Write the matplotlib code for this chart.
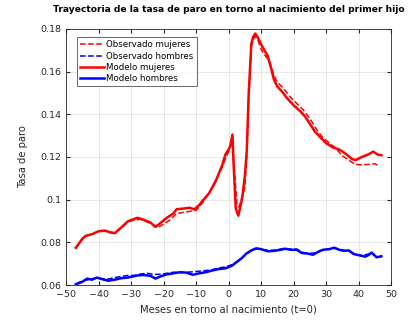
import numpy as np
import matplotlib.pyplot as plt

# Datos (meses en torno al nacimiento, tasa de paro)
mes_mod_muj = [-47, -45, -44, -42, -40, -38, -36, -35, -33, -31, -29, -28, -26, -24, -22.5,
               -21, -19, -17, -16, -14, -12, -10.5, -9, -8, -6, -4, -2, -1, 0, 0.5, 1.2,
               1.6, 2.2, 3.0, 3.6, 4.3, 5.0, 5.6, 6.2, 7.0, 7.5, 8.2, 9, 10, 11, 12, 13,
               14, 15, 16.5, 18, 20, 22, 23.5, 25, 26.5, 28, 30, 32, 34, 36, 38, 39, 41,
               43, 44.5, 46, 47]
tasa_mod_muj = [0.0775, 0.0815, 0.0830, 0.0838, 0.0852, 0.0855, 0.0845, 0.0843, 0.0870,
                0.0898, 0.0910, 0.0915, 0.0905, 0.0893, 0.0872, 0.0890, 0.0915, 0.0935,
                0.0955, 0.0958, 0.0962, 0.0955, 0.0975, 0.0995, 0.1030, 0.1085, 0.1160,
                0.1210, 0.1235, 0.1250, 0.1305, 0.1150, 0.0960, 0.0925, 0.0965, 0.1020,
                0.1110, 0.1230, 0.1500, 0.1730, 0.1760, 0.1778, 0.1760, 0.1728, 0.1700,
                0.1675, 0.1620, 0.1560, 0.1530, 0.1505, 0.1475, 0.1442, 0.1415, 0.1390,
                0.1355, 0.1320, 0.1295, 0.1265, 0.1245, 0.1235, 0.1215, 0.1190, 0.1185,
                0.1200, 0.1212, 0.1225, 0.1210, 0.1208]

mes_obs_muj = [-47, -45, -43, -41, -39, -37, -35, -33, -31, -29, -27, -25, -23, -22, -20,
               -18, -16, -14, -12, -10, -8, -6, -4, -2, -1, 0, 1.2, 2, 2.6, 3.2, 4, 5,
               5.6, 6.2, 7, 8, 9, 10, 11, 12, 13, 14, 15, 17, 19, 21, 23, 25, 27, 29, 31,
               33, 35, 37, 39, 41, 43, 45, 46.5]
tasa_obs_muj = [0.0770, 0.0820, 0.0835, 0.0845, 0.0855, 0.0848, 0.0845, 0.0865, 0.0895,
                0.0905, 0.0908, 0.0895, 0.0880, 0.0868, 0.0885, 0.0905, 0.0935, 0.0940,
                0.0945, 0.0950, 0.0985, 0.1030, 0.1090, 0.1150, 0.1190, 0.1225, 0.1228,
                0.1100, 0.0975, 0.0965, 0.1000, 0.1060, 0.1200, 0.1480, 0.1720, 0.1765,
                0.1750, 0.1705, 0.1680, 0.1660, 0.1630, 0.1580, 0.1550, 0.1520, 0.1480,
                0.1450, 0.1420, 0.1380, 0.1330, 0.1290, 0.1265, 0.1240, 0.1205, 0.1185,
                0.1165, 0.1163, 0.1165, 0.1168, 0.1155]

mes_mod_hom = [-47, -45, -43.5, -42, -40.5, -39, -37, -35, -33, -31, -29.5, -28, -26, -24,
               -22.5, -21, -19, -17, -15, -13, -11, -9, -7, -5, -3, -1, 1, 2.5, 4, 5.5, 7,
               8.5, 10, 12, 14, 16, 17.5, 19, 21, 22.5, 24, 26, 27.5, 29, 31, 32.5, 34,
               35.5, 37, 38.5, 40, 42, 43, 44, 45.5, 47]
tasa_mod_hom = [0.0603, 0.0615, 0.0630, 0.0625, 0.0635, 0.0628, 0.0620, 0.0625, 0.0632,
                0.0635, 0.0640, 0.0645, 0.0647, 0.0643, 0.0630, 0.0640, 0.0650, 0.0655,
                0.0660, 0.0658, 0.0648, 0.0655, 0.0660, 0.0668, 0.0675, 0.0678, 0.0690,
                0.0708, 0.0725, 0.0748, 0.0762, 0.0772, 0.0768, 0.0758, 0.0760, 0.0765,
                0.0770, 0.0765, 0.0765, 0.0750, 0.0748, 0.0742, 0.0755, 0.0765, 0.0768,
                0.0775, 0.0765, 0.0760, 0.0762, 0.0745, 0.0740, 0.0733, 0.0740, 0.0752,
                0.0730, 0.0735]

mes_obs_hom = [-47, -45, -43, -41, -39, -37, -35, -33, -31, -29, -27, -25, -23, -21, -19,
               -17, -15, -13, -11, -9, -7, -5, -3, -1, 1, 3, 5, 7, 9, 11, 13, 15, 17, 19,
               21, 23, 25, 27, 29, 31, 33, 35, 37, 39, 41, 43, 44, 45.5, 47]
tasa_obs_hom = [0.0605, 0.0620, 0.0625, 0.0633, 0.0630, 0.0628, 0.0635, 0.0640, 0.0645,
                0.0645, 0.0652, 0.0655, 0.0650, 0.0650, 0.0655, 0.0660, 0.0658, 0.0660,
                0.0662, 0.0665, 0.0668, 0.0672, 0.0680, 0.0685, 0.0695, 0.0712, 0.0740,
                0.0762, 0.0770, 0.0765, 0.0762, 0.0765, 0.0772, 0.0768, 0.0768, 0.0752,
                0.0748, 0.0752, 0.0765, 0.0770, 0.0772, 0.0765, 0.0758, 0.0745, 0.0738,
                0.0745, 0.0750, 0.0732, 0.0733]

xticks = [-50, -40, -30, -20, -10, 0, 10, 20, 30, 40, 50]
yticks = [0.06, 0.08, 0.10, 0.12, 0.14, 0.16, 0.18]
yticklabels = ['0.06', '0.08', '0.1', '0.12', '0.14', '0.16', '0.18']

fig = plt.figure(figsize=(4.1, 3.28), dpi=100)
ax = fig.add_axes([0.161, 0.131, 0.793, 0.781])

ax.plot(mes_obs_muj, tasa_obs_muj, color='#ff0000', ls='--', lw=1.1, label='Observado mujeres')
ax.plot(mes_obs_hom, tasa_obs_hom, color='#0000ff', ls='--', lw=1.1, label='Observado hombres')
ax.plot(mes_mod_muj, tasa_mod_muj, color='#ff0000', lw=1.8, label='Modelo mujeres')
ax.plot(mes_mod_hom, tasa_mod_hom, color='#0000ff', lw=1.8, label='Modelo hombres')

ax.set_xlim(-50, 50)
ax.set_ylim(0.06, 0.18)
ax.set_xticks(xticks)
ax.set_yticks(yticks)
ax.set_yticklabels(yticklabels)
ax.tick_params(direction='in', length=3, labelsize=6.8, colors='#262626',
               top=True, right=True)
for s in ax.spines.values():
    s.set_color('#262626')
    s.set_linewidth(0.6)
ax.grid(True, color='#e3e3e3', lw=0.6)
ax.set_axisbelow(True)

ax.set_title('Trayectoria de la tasa de paro en torno al nacimiento del primer hijo',
             fontsize=6.6, fontweight='bold', pad=12)
ax.set_xlabel('Meses en torno al nacimiento (t=0)', fontsize=7.2, color='#262626', labelpad=4)
ax.set_ylabel('Tasa de paro', fontsize=7.2, color='#262626', labelpad=9)

leg = ax.legend(loc='upper left', fontsize=6.2, frameon=True, fancybox=False,
                borderpad=0.4, handlelength=2.8, handletextpad=0.2, labelspacing=0.25,
                bbox_to_anchor=(0.02, 0.985))
leg.get_frame().set_edgecolor('#262626')
leg.get_frame().set_linewidth(0.6)

fig.savefig('out.png', dpi=100)
